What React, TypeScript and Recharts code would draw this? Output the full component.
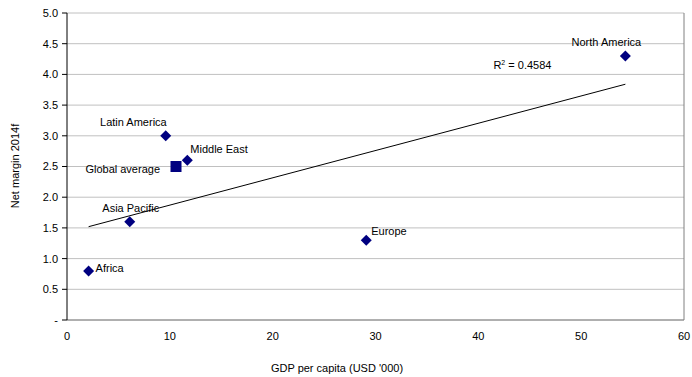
import React from "react";
import {
  ScatterChart,
  Scatter,
  XAxis,
  YAxis,
  CartesianGrid,
  ReferenceLine,
} from "recharts";

const regions = ["Africa", "Asia Pacific", "Latin America", "Middle East", "Europe", "North America"];
const gdpPerCapita = [2.1, 6.1, 9.6, 11.7, 29.1, 54.3];
const netMargin = [0.8, 1.6, 3.0, 2.6, 1.3, 4.3];

const globalName = ["Global average"];
const globalGdp = [10.6];
const globalMargin = [2.5];

// trendline end points
const trendGdp = [2.1, 54.3];
const trendMargin = [1.52, 3.84];
const rSquared = "0.4584";

const xTicks = [0, 10, 20, 30, 40, 50, 60];
const yTicks = [0, 0.5, 1, 1.5, 2, 2.5, 3, 3.5, 4, 4.5, 5];

const navy = "#000080";
const font = "'Liberation Sans', Arial, sans-serif";

const labelPos: Record<string, { dx: number; dy: number; anchor: string }> = {
  Africa: { dx: 7, dy: 1, anchor: "start" },
  "Asia Pacific": { dx: 1, dy: -10, anchor: "middle" },
  "Latin America": { dx: 1, dy: -10, anchor: "end" },
  "Middle East": { dx: 3, dy: -7, anchor: "start" },
  "Global average": { dx: -16, dy: 6, anchor: "end" },
  Europe: { dx: 5, dy: -5, anchor: "start" },
  "North America": { dx: -19, dy: -10, anchor: "middle" },
};

const regionData = regions.map((name, i) => ({ name, x: gdpPerCapita[i], y: netMargin[i] }));
const globalData = globalName.map((name, i) => ({ name, x: globalGdp[i], y: globalMargin[i] }));
const trendData = trendGdp.map((x, i) => ({ x, y: trendMargin[i] }));

function PointLabel({ cx, cy, name }: { cx: number; cy: number; name: string }) {
  const p = labelPos[name];
  return (
    <text x={cx + p.dx} y={cy + p.dy} textAnchor={p.anchor} fontSize={11} fontFamily={font} fill="#000">
      {name}
    </text>
  );
}

function Diamond(props: any) {
  const { cx, cy, payload } = props;
  const r = 5.5;
  return (
    <g>
      <path d={`M${cx},${cy - r}L${cx + r},${cy}L${cx},${cy + r}L${cx - r},${cy}Z`} fill={navy} />
      <PointLabel cx={cx} cy={cy} name={payload.name} />
    </g>
  );
}

function Square(props: any) {
  const { cx, cy, payload } = props;
  const h = 5.5;
  return (
    <g>
      <rect x={cx - h} y={cy - h} width={h * 2} height={h * 2} fill={navy} />
      <PointLabel cx={cx} cy={cy} name={payload.name} />
    </g>
  );
}

function TrendEnd(props: any) {
  const { cx, cy, payload } = props;
  if (payload.x !== trendGdp[trendGdp.length - 1]) return <g />;
  return (
    <text x={cx - 132} y={cy - 15} fontSize={11} fontFamily={font} fill="#000">
      R<tspan dy={-4} fontSize={7}>2</tspan>
      <tspan dy={4}> = {rSquared}</tspan>
    </text>
  );
}

export default function App() {
  return (
    <div style={{ position: "absolute", left: 0, top: 0, width: 692, height: 377, background: "#fff" }}>
      <ScatterChart width={692} height={377} margin={{ top: 13, right: 8, bottom: 0, left: 0 }}>
        <CartesianGrid vertical={false} stroke="#c0c0c0" />
        <XAxis
          type="number"
          dataKey="x"
          domain={[0, 60]}
          ticks={xTicks}
          height={57}
          axisLine={{ stroke: "#808080" }}
          tickLine={false}
          tickSize={6}
          tickMargin={6}
          tick={{ fontSize: 11, fontFamily: font, fill: "#000" }}
          label={{
            content: () => (
              <text x={337} y={372} textAnchor="middle" fontSize={11} fontFamily={font} fill="#000">
                GDP per capita (USD '000)
              </text>
            ),
          }}
        />
        <YAxis
          type="number"
          dataKey="y"
          domain={[0, 5]}
          ticks={yTicks}
          width={67}
          axisLine={{ stroke: "#000" }}
          tickLine={{ stroke: "#000" }}
          tickSize={5}
          tickMargin={4}
          tickFormatter={(v: number) => (v === 0 ? "-" : v.toFixed(1))}
          tick={{ fontSize: 11, fontFamily: font, fill: "#000" }}
          label={{
            content: () => (
              <text
                x={19}
                y={166}
                transform="rotate(-90, 19, 166)"
                textAnchor="middle"
                fontSize={11}
                fontFamily={font}
                fill="#000"
              >
                Net margin 2014f
              </text>
            ),
          }}
        />
        <ReferenceLine x={60} stroke="#808080" />
        <Scatter
          data={trendData}
          line={{ stroke: "#000", strokeWidth: 1 }}
          shape={TrendEnd}
          isAnimationActive={false}
        />
        <Scatter data={regionData} shape={Diamond} isAnimationActive={false} />
        <Scatter data={globalData} shape={Square} isAnimationActive={false} />
      </ScatterChart>
    </div>
  );
}
